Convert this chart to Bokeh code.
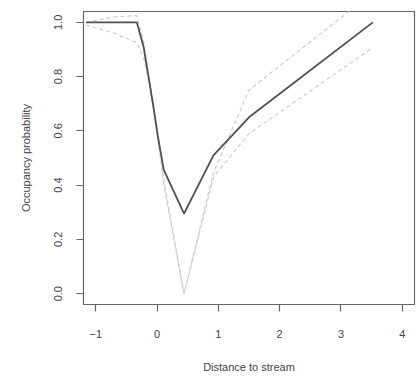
from bokeh.plotting import figure
from bokeh.models import Range1d, FixedTicker, PrintfTickFormatter
from bokeh.embed import file_html
from bokeh.resources import INLINE

# Data
distance = [-1.16, -0.7, -0.33, -0.22, -0.14, -0.06, 0.02, 0.11, 0.44, 0.92, 1.5, 3.52]
occupancy = [1.0, 1.0, 1.0, 0.91, 0.80, 0.69, 0.57, 0.456, 0.295, 0.51, 0.65, 1.0]
upper = [1.0, 1.02, 1.025, 0.93, 0.81, 0.70, 0.58, 0.42, 0.0, 0.445, 0.75, 1.11]
lower = [0.99, 0.96, 0.925, 0.87, 0.79, 0.68, 0.56, 0.40, 0.0, 0.43, 0.59, 0.907]
x_ticks = [-1, 0, 1, 2, 3, 4]
y_ticks = [0.0, 0.2, 0.4, 0.6, 0.8, 1.0]

FONT = "Liberation Sans"
TXT = "#444444"

p = figure(width=418, height=378, output_backend="svg", toolbar_location=None,
           x_range=Range1d(-1.2, 4.2), y_range=Range1d(-0.04, 1.04),
           min_border_left=83, min_border_right=4, min_border_top=11, min_border_bottom=74)
p.grid.visible = False
p.outline_line_color = "#666666"
p.outline_line_width = 1.2
p.background_fill_color = "white"

p.line(distance, upper, line_color="#cfcfcf", line_width=1.3, line_dash="4 3")
p.line(distance, lower, line_color="#cfcfcf", line_width=1.3, line_dash="4 3")
p.line(distance, occupancy, line_color="#505050", line_width=1.8)

for ax in (p.xaxis[0], p.yaxis[0]):
    ax.axis_line_color = None
    ax.major_tick_line_color = "#666666"
    ax.major_tick_line_width = 1.2
    ax.major_tick_out = 7
    ax.major_tick_in = 0
    ax.minor_tick_line_color = None
    ax.major_label_text_font = FONT
    ax.major_label_text_font_size = "11px"
    ax.major_label_text_color = TXT
    ax.axis_label_text_font = FONT
    ax.axis_label_text_font_size = "11px"
    ax.axis_label_text_font_style = "normal"
    ax.axis_label_text_color = TXT

p.xaxis.ticker = FixedTicker(ticks=x_ticks)
p.yaxis.ticker = FixedTicker(ticks=y_ticks)
p.yaxis.formatter = PrintfTickFormatter(format="%.1f")
p.yaxis.major_label_orientation = "vertical"
p.xaxis.axis_label = "Distance to stream"
p.yaxis.axis_label = "Occupancy probability"
p.xaxis.major_label_standoff = 18
p.yaxis.major_label_standoff = 14
p.xaxis.axis_label_standoff = 20
p.yaxis.axis_label_standoff = 20

open("out.html", "w").write(file_html(p, INLINE))
